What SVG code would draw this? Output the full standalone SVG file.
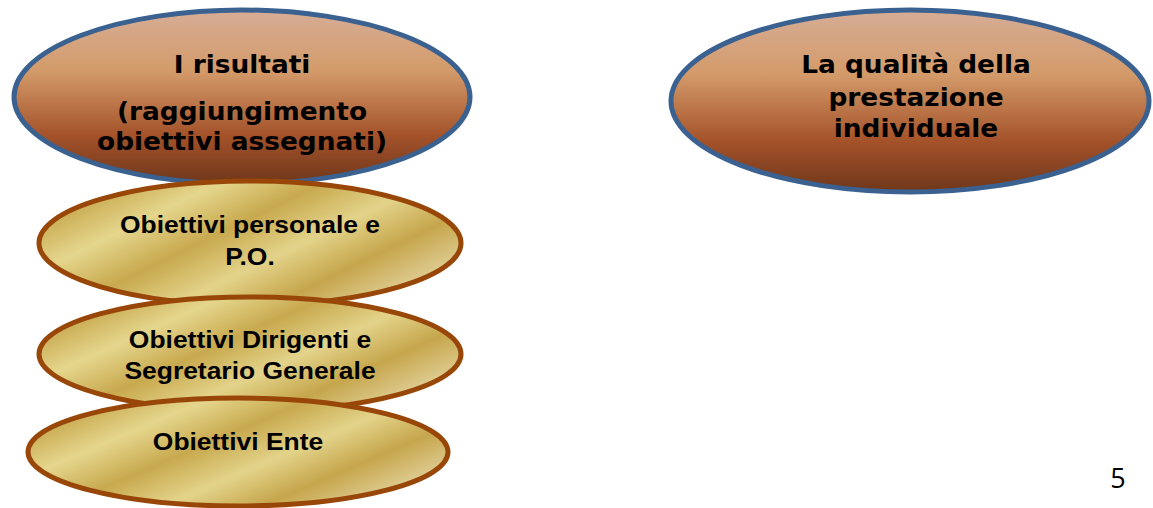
<svg xmlns="http://www.w3.org/2000/svg" width="1153" height="508" viewBox="0 0 1153 508">
<defs>
<linearGradient id="brown" x1="0" y1="0" x2="0" y2="1">
<stop offset="0" stop-color="#d6ad96"/>
<stop offset="0.35" stop-color="#d49b6a"/>
<stop offset="0.72" stop-color="#a4522a"/>
<stop offset="1" stop-color="#6f371a"/>
</linearGradient>
<linearGradient id="gold" x1="0" y1="0" x2="1" y2="0.6">
<stop offset="0" stop-color="#e2d08a"/>
<stop offset="0.15" stop-color="#c9ab52"/>
<stop offset="0.32" stop-color="#e5d68d"/>
<stop offset="0.5" stop-color="#c8a94e"/>
<stop offset="0.68" stop-color="#e3d38a"/>
<stop offset="0.85" stop-color="#c6a64c"/>
<stop offset="1" stop-color="#dcc88a"/>
</linearGradient>
<style>
.big{fill:url(#brown);stroke:#3b6190;stroke-width:5}
.gold{fill:url(#gold);stroke:#984709;stroke-width:5}
.t1{font-family:"DejaVu Sans",Verdana,sans-serif;font-weight:bold;font-size:24px;fill:#000;text-anchor:middle}
.t2{font-family:"Liberation Sans",Arial,sans-serif;font-weight:bold;font-size:23px;fill:#000;text-anchor:middle}
.num{font-family:"Open Sans","DejaVu Sans",sans-serif;font-size:27px;fill:#000;text-anchor:middle}
</style>
</defs>
<g id="risultati">
<ellipse class="big" cx="242" cy="97" rx="228" ry="87"/>
<g transform="translate(242,0) scale(1.1,1)">
<text class="t1" x="0" y="73">I risultati</text>
<text class="t1" x="0" y="120">(raggiungimento</text>
<text class="t1" x="0" y="150">obiettivi assegnati)</text>
</g>
</g>
<g id="qualita">
<ellipse class="big" cx="910" cy="101" rx="239" ry="91"/>
<g transform="translate(916,0) scale(1.1,1)">
<text class="t1" x="0" y="73">La qualità della</text>
<text class="t1" x="0" y="106">prestazione</text>
<text class="t1" x="0" y="137">individuale</text>
</g>
</g>
<g id="personale">
<ellipse class="gold" cx="250" cy="243" rx="211" ry="62"/>
<g transform="translate(250,0) scale(1.15,1)">
<text class="t2" x="0" y="233">Obiettivi personale e</text>
<text class="t2" x="0" y="265">P.O.</text>
</g>
</g>
<g id="dirigenti">
<ellipse class="gold" cx="250" cy="354" rx="211" ry="57"/>
<g transform="translate(250,0) scale(1.15,1)">
<text class="t2" x="0" y="348">Obiettivi Dirigenti e</text>
<text class="t2" x="0" y="379">Segretario Generale</text>
</g>
</g>
<g id="ente">
<ellipse class="gold" cx="238" cy="452" rx="210" ry="54"/>
<g transform="translate(238,0) scale(1.15,1)">
<text class="t2" x="0" y="450">Obiettivi Ente</text>
</g>
</g>
<g id="connectors"></g>
<text class="num" x="1118" y="488">5</text>
</svg>
